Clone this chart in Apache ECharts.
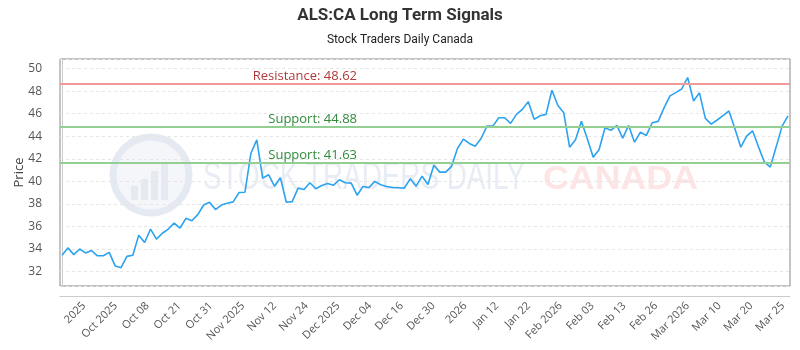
<!DOCTYPE html>
<html><head><meta charset="utf-8">
<script src="https://cdn.jsdelivr.net/npm/echarts@6/dist/echarts.min.js"></script>
<style>html,body{margin:0;padding:0;background:#fff}#c{width:800px;height:350px}</style>
</head><body><div id="c"></div>
<script>
const titleText = 'ALS:CA Long Term Signals';
const subtitleText = 'Stock Traders Daily Canada';
const xLabels = ['2025','Oct 2025','Oct 08','Oct 21','Oct 31','Nov 2025','Nov 12','Nov 24','Dec 2025','Dec 04','Dec 16','Dec 30','2026','Jan 12','Jan 22','Feb 2026','Feb 03','Feb 13','Feb 26','Mar 2026','Mar 10','Mar 20','Mar 25'];
const prices = [
  33.44,34.10,33.50,34.00,33.65,33.86,33.40,33.40,33.70,32.50,
  32.34,33.35,33.44,35.23,34.58,35.77,34.88,35.40,35.77,36.30,
  35.86,36.72,36.51,37.05,37.90,38.15,37.50,37.90,38.06,38.18,
  39.01,39.04,42.49,43.68,40.29,40.59,39.57,40.32,38.15,38.20,
  39.40,39.28,39.88,39.34,39.63,39.81,39.66,40.14,39.88,39.84,
  38.77,39.55,39.46,40.00,39.70,39.55,39.46,39.43,39.40,40.23,
  39.57,40.46,39.72,41.42,40.82,40.82,41.33,42.91,43.74,43.36,
  43.12,43.80,44.90,44.90,45.64,45.64,45.14,45.94,46.39,47.07,
  45.50,45.82,45.94,48.08,46.75,46.09,43.03,43.68,45.32,43.77,
  42.14,42.82,44.75,44.52,44.96,43.83,44.96,43.47,44.37,44.07,
  45.20,45.32,46.51,47.58,47.87,48.20,49.21,47.13,47.85,45.59,
  45.08,45.44,45.82,46.24,44.69,43.03,44.01,44.48,43.06,41.72,
  41.27,43.06,44.90,45.80
];
const resistance = 48.62;
const supportHigh = 44.88;
const supportLow = 41.63;
const yMin = 30.72, yMax = 50.85;

function fitScale(text, font, target) {
  const cv = document.createElement('canvas').getContext('2d');
  cv.font = font;
  return target / cv.measureText(text).width;
}
const wmFont1 = '38px "Liberation Sans"';
const wmFont2 = 'bold 33px "Liberation Sans"';
const sx1 = fitScale('STOCK TRADERS DAILY', wmFont1, 322);
const sx2 = fitScale('CANADA', wmFont2, 155);

const chart = echarts.init(document.getElementById('c'), null, {renderer: 'canvas'});
const seriesData = prices.map((v, i) => [i, v]);
const mlLabel = (text, color) => ({formatter: text, position: 'insideMiddleTop', align: 'right', padding: [0, 68, 0, 0], distance: 1, color: color, fontSize: 13, fontFamily: 'Open Sans'});

chart.setOption({
  animation: false,
  backgroundColor: '#fff',
  title: {
    text: titleText, subtext: subtitleText, left: 'center', top: 2, itemGap: 10,
    textStyle: {fontFamily: 'Roboto', fontWeight: 'bold', fontSize: 17, color: '#333'},
    subtextStyle: {fontFamily: 'Roboto', fontSize: 12, color: '#222'}
  },
  grid: [
    {left: 60, right: 10, top: 59, bottom: 64, show: true, borderColor: '#888', borderWidth: 1, containLabel: false},
    {left: 84, right: 17, top: 59, bottom: 64, show: false, containLabel: false}
  ],
  graphic: [
    {type: 'circle', silent: true, z: -1, shape: {cx: 151, cy: 175, r: 38}, style: {fill: '#f4f6fa', stroke: '#e5e9f1', lineWidth: 7}},
    {type: 'rect', silent: true, z: -1, shape: {x: 131, y: 186, width: 7, height: 14}, style: {fill: '#e5e9f1'}},
    {type: 'rect', silent: true, z: -1, shape: {x: 141, y: 179, width: 7, height: 21}, style: {fill: '#e5e9f1'}},
    {type: 'rect', silent: true, z: -1, shape: {x: 151, y: 171, width: 7, height: 29}, style: {fill: '#e5e9f1'}},
    {type: 'rect', silent: true, z: -1, shape: {x: 161, y: 163, width: 7, height: 37}, style: {fill: '#e5e9f1'}},
    {type: 'text', silent: true, z: -1, x: 203, y: 179, scaleX: sx1, style: {text: 'STOCK TRADERS DAILY', font: wmFont1, fill: '#e8ecf4', verticalAlign: 'middle', align: 'left'}},
    {type: 'text', silent: true, z: -1, x: 543, y: 180, scaleX: sx2, style: {text: 'CANADA', font: wmFont2, fill: '#fde5e5', verticalAlign: 'middle', align: 'left'}}
  ],
  xAxis: [
    {type: 'value', gridIndex: 0, min: -0.34, max: 123.34, offset: 10,
     axisLine: {show: true, lineStyle: {color: '#ccc', width: 1}},
     axisTick: {show: false}, axisLabel: {show: false}, splitLine: {show: false}},
    {type: 'category', gridIndex: 1, data: xLabels, boundaryGap: false, offset: 10,
     axisLine: {show: false}, axisTick: {show: false}, splitLine: {show: false},
     axisLabel: {interval: 0, rotate: 45, margin: 8, fontSize: 11, color: '#555', fontFamily: 'Open Sans'}}
  ],
  yAxis: [
    {type: 'value', gridIndex: 0, min: yMin, max: yMax, splitNumber: 10, offset: 10,
     name: 'Price', nameLocation: 'middle', nameGap: 24, nameMoveOverlap: false,
     nameTextStyle: {fontSize: 13, color: '#444', fontFamily: 'Open Sans'},
     axisLine: {show: true, lineStyle: {color: '#ccc', width: 1}},
     axisTick: {show: false},
     axisLabel: {margin: 8, fontSize: 12, color: '#555', fontFamily: 'Open Sans', padding: [5, 0, 0, 0],
       formatter: v => { const r = Math.round(v); return (Math.abs(v - r) < 1e-6 && r % 2 === 0) ? String(r) : ''; }},
     splitLine: {show: true, lineStyle: {color: '#e6e6e6', type: [3, 3], width: 1}}},
    {type: 'value', gridIndex: 1, show: false}
  ],
  series: [{
    type: 'line', xAxisIndex: 0, yAxisIndex: 0, data: seriesData,
    showSymbol: false, symbol: 'none',
    lineStyle: {color: '#2ba3f0', width: 1.6}, z: 3,
    markLine: {
      silent: true, symbol: 'none', animation: false,
      data: [
        {yAxis: resistance, lineStyle: {color: '#f09a9a', width: 2, type: 'solid'}, label: mlLabel('Resistance: ' + resistance, '#b03a3a')},
        {yAxis: supportHigh, lineStyle: {color: '#93cf93', width: 2, type: 'solid'}, label: mlLabel('Support: ' + supportHigh, '#2f8a3a')},
        {yAxis: supportLow, lineStyle: {color: '#93cf93', width: 2, type: 'solid'}, label: mlLabel('Support: ' + supportLow, '#2f8a3a')}
      ]
    }
  }]
});
</script></body></html>
